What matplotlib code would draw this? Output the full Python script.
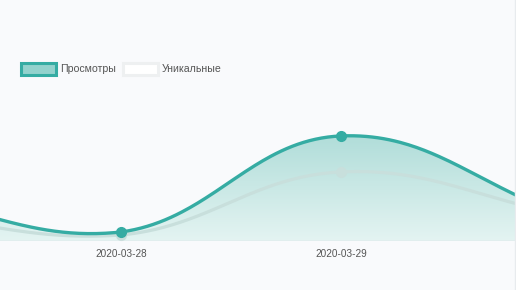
import numpy as np
import matplotlib
matplotlib.use("Agg")
import matplotlib.pyplot as plt
from matplotlib.colors import LinearSegmentedColormap
from matplotlib.patches import Rectangle
from matplotlib.lines import Line2D

dates = ["2020-03-27", "2020-03-28", "2020-03-29", "2020-03-30"]
views = [15, 3, 35, 9]
uniques = [9, 2, 23, 9]

TEAL = "#35aca3"
GREY_LINE = "#c8dfdc"
BG = "#f9fafc"

W, H = 516, 290
XMIN, XMAX = 0.45, 2.795
YMAX = 60.3
fig = plt.figure(figsize=(W / 100, H / 100), dpi=100)
fig.patch.set_facecolor(BG)

# plot area: baseline at y=241px, top at 60px
base_px, top_px = 241, 60
ax = fig.add_axes([0, (H - base_px) / H, 1, (base_px - top_px) / H])
ax.set_facecolor(BG)
ax.set_xlim(XMIN, XMAX)
ax.set_ylim(0, YMAX)
for s in ax.spines.values():
    s.set_visible(False)
ax.set_yticks([])
ax.set_xticks([])


def spline(xs, ys, tension=0.4, n=80):
    # chart.js style bezier, control points worked out in pixel space
    sx = W / (XMAX - XMIN)
    sy = (base_px - top_px) / YMAX
    px = np.array(xs, float) * sx
    py = np.array(ys, float) * sy
    k = len(px)
    cps = []
    for i in range(k):
        p = (px[max(i - 1, 0)], py[max(i - 1, 0)])
        c = (px[i], py[i])
        q = (px[min(i + 1, k - 1)], py[min(i + 1, k - 1)])
        d01 = np.hypot(c[0] - p[0], c[1] - p[1])
        d12 = np.hypot(q[0] - c[0], q[1] - c[1])
        tot = d01 + d12 if d01 + d12 else 1
        fa = tension * d01 / tot
        fb = tension * d12 / tot
        prev = (c[0] - fa * (q[0] - p[0]), max(c[1] - fa * (q[1] - p[1]), 0))
        nxt = (c[0] + fb * (q[0] - p[0]), max(c[1] + fb * (q[1] - p[1]), 0))
        cps.append((prev, nxt))
    out_x, out_y = [], []
    t = np.linspace(0, 1, n)
    for i in range(k - 1):
        p0 = (px[i], py[i])
        p1 = cps[i][1]
        p2 = cps[i + 1][0]
        p3 = (px[i + 1], py[i + 1])
        bx = (1 - t) ** 3 * p0[0] + 3 * (1 - t) ** 2 * t * p1[0] + 3 * (1 - t) * t ** 2 * p2[0] + t ** 3 * p3[0]
        by = (1 - t) ** 3 * p0[1] + 3 * (1 - t) ** 2 * t * p1[1] + 3 * (1 - t) * t ** 2 * p2[1] + t ** 3 * p3[1]
        out_x.extend(bx / sx)
        out_y.extend(by / sy)
    return np.array(out_x), np.array(out_y)


idx = np.arange(len(dates))
vx, vy = spline(idx, views)
ux, uy = spline(idx, uniques)

# gradient fill under views
cmap = LinearSegmentedColormap.from_list("g", ["#e4f4f2", "#aedcd8"])
grad = np.linspace(0, 1, 256).reshape(-1, 1)
im = ax.imshow(grad, extent=[XMIN, XMAX, 0, max(views) * 1.05], origin="lower", aspect="auto",
               cmap=cmap, zorder=1)
clip = plt.Polygon(np.column_stack([np.r_[vx, vx[-1], vx[0]], np.r_[vy, 0, 0]]),
                   closed=True, transform=ax.transData, facecolor="none", edgecolor="none")
ax.add_patch(clip)
im.set_clip_path(clip)

ax.plot(ux, uy, color=GREY_LINE, lw=2.3, zorder=2, solid_capstyle="round")
ax.plot(idx, uniques, "o", color=GREY_LINE, ms=7, zorder=2)
ax.plot(vx, vy, color=TEAL, lw=2.4, zorder=3, solid_capstyle="round")
ax.plot(idx, views, "o", color=TEAL, ms=7, zorder=4)

ax.axhline(0, color="#d9dee2", lw=1, zorder=5)

for i, d in enumerate(dates):
    if XMIN < i < XMAX:
        ax.text(i, -4.4, d, ha="center", va="center", fontsize=7.2, color="#555555",
                family="Liberation Sans", clip_on=False)

# legend
fig.patches.append(Rectangle((21 / W, 1 - 75 / H), 35 / W, 12 / H, transform=fig.transFigure,
                             facecolor="#93d2cd", edgecolor=TEAL, lw=2.2))
fig.text(60 / W, 1 - 69 / H, "Просмотры", ha="left", va="center", fontsize=7.6,
         color="#555555", family="Liberation Sans")
fig.patches.append(Rectangle((123 / W, 1 - 75 / H), 35 / W, 12 / H, transform=fig.transFigure,
                             facecolor="#ffffff", edgecolor="#eef0f1", lw=2.2))
fig.text(162 / W, 1 - 69 / H, "Уникальные", ha="left", va="center", fontsize=7.6,
         color="#555555", family="Liberation Sans")

# thin border on the right edge
fig.lines.append(Line2D([1 - 1 / W, 1 - 1 / W], [0, 1], transform=fig.transFigure,
                        color="#e8ebee", lw=1))

fig.savefig("out.png", dpi=100, facecolor=BG)
